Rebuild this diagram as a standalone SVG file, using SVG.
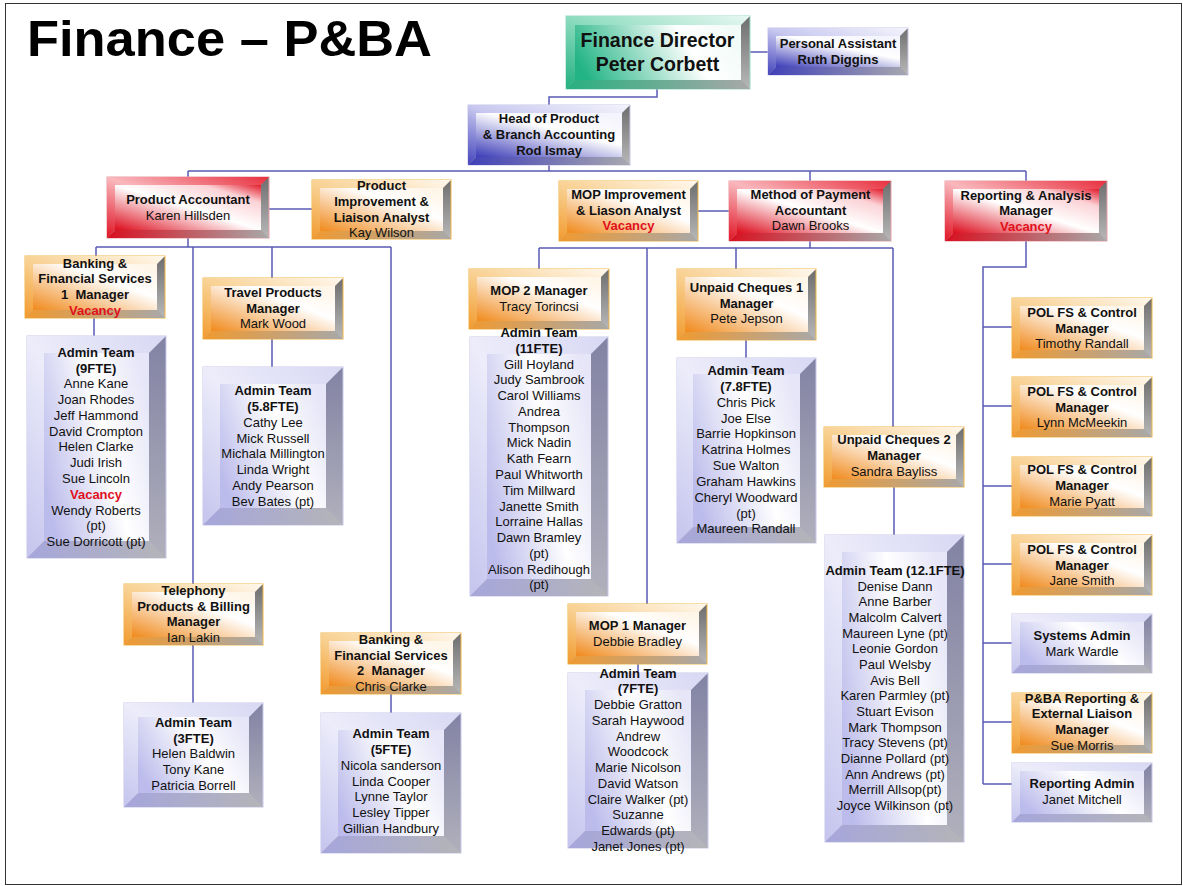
<svg xmlns="http://www.w3.org/2000/svg" width="1183" height="886" viewBox="0 0 1183 886">
<defs>
<linearGradient id="grayR" x1="0" y1="0" x2="0" y2="1"><stop offset="0" stop-color="#6e6e6e"/><stop offset="1" stop-color="#b8b8b8"/></linearGradient>
<linearGradient id="grayRL" x1="0" y1="0" x2="0" y2="1"><stop offset="0" stop-color="#8282a4"/><stop offset="1" stop-color="#b0b0bc"/></linearGradient>
<linearGradient id="oF" x1="0" y1="1" x2="0.9" y2="0.1"><stop offset="0" stop-color="#f08a1c"/><stop offset="0.7" stop-color="#ffffff"/><stop offset="1" stop-color="#fff6ea"/></linearGradient>
<linearGradient id="oT" x1="0" y1="1" x2="1" y2="0"><stop offset="0" stop-color="#f29a2e"/><stop offset="0.45" stop-color="#f8cf8e"/><stop offset="1" stop-color="#fff8ee"/></linearGradient>
<linearGradient id="oB" x1="0" y1="0" x2="1" y2="0"><stop offset="0" stop-color="#f09a30"/><stop offset="1" stop-color="#a8a8a8"/></linearGradient>
<linearGradient id="rF" x1="0" y1="1" x2="1" y2="0"><stop offset="0" stop-color="#dc0c1c"/><stop offset="0.5" stop-color="#ffffff"/><stop offset="0.8" stop-color="#fbd2d6"/><stop offset="1" stop-color="#e41c2c"/></linearGradient>
<linearGradient id="rT" x1="0" y1="1" x2="1" y2="0"><stop offset="0" stop-color="#e01424"/><stop offset="0.5" stop-color="#f9b8bd"/><stop offset="1" stop-color="#e8303e"/></linearGradient>
<linearGradient id="rB" x1="0" y1="0" x2="1" y2="0"><stop offset="0" stop-color="#d81020"/><stop offset="1" stop-color="#a8a8a8"/></linearGradient>
<linearGradient id="bF" x1="0" y1="1" x2="0.8" y2="0"><stop offset="0" stop-color="#3c3cb8"/><stop offset="0.65" stop-color="#ffffff"/><stop offset="1" stop-color="#f4f4fc"/></linearGradient>
<linearGradient id="bT" x1="0" y1="1" x2="1" y2="0"><stop offset="0" stop-color="#4444bc"/><stop offset="0.5" stop-color="#c8c8f0"/><stop offset="1" stop-color="#f4f4fc"/></linearGradient>
<linearGradient id="bB" x1="0" y1="0" x2="1" y2="0"><stop offset="0" stop-color="#4040b8"/><stop offset="1" stop-color="#a8a8b0"/></linearGradient>
<linearGradient id="lF" x1="0" y1="0.7" x2="1" y2="0.3"><stop offset="0" stop-color="#bcbcec"/><stop offset="0.6" stop-color="#ffffff"/><stop offset="1" stop-color="#e6e6f8"/></linearGradient>
<linearGradient id="lT" x1="0" y1="1" x2="1" y2="0"><stop offset="0" stop-color="#c4c4ee"/><stop offset="0.5" stop-color="#ececfa"/><stop offset="1" stop-color="#d8d8f4"/></linearGradient>
<linearGradient id="lB" x1="0" y1="0" x2="1" y2="0"><stop offset="0" stop-color="#a6a6dc"/><stop offset="1" stop-color="#b4b4b8"/></linearGradient>
<linearGradient id="gF" x1="0" y1="0.6" x2="1" y2="0.4"><stop offset="0" stop-color="#22b484"/><stop offset="0.7" stop-color="#ffffff"/><stop offset="1" stop-color="#f2fbf7"/></linearGradient>
<linearGradient id="gT" x1="0" y1="1" x2="1" y2="0"><stop offset="0" stop-color="#22b080"/><stop offset="0.5" stop-color="#8edcc0"/><stop offset="1" stop-color="#e8f8f2"/></linearGradient>
<linearGradient id="gB" x1="0" y1="0" x2="1" y2="0"><stop offset="0" stop-color="#28b080"/><stop offset="1" stop-color="#a8a8a8"/></linearGradient>
</defs>
<style>
.out{fill:url(#grayR);stroke-width:1}
.o .out{stroke:#f0b848}
.r .out{stroke:#e8a0a8}
.b .out,.l .out{stroke:#c8c8e8}
.g .out{stroke:#9adcc4}
.l .out{fill:url(#grayRL)}
.o .f{fill:url(#oF)} .o .t{fill:url(#oT)} .o .bt{fill:url(#oB)}
.r .f{fill:url(#rF)} .r .t{fill:url(#rT)} .r .bt{fill:url(#rB)}
.b .f{fill:url(#bF)} .b .t{fill:url(#bT)} .b .bt{fill:url(#bB)}
.l .f{fill:url(#lF)} .l .t{fill:url(#lT)} .l .bt{fill:url(#lB)}
.g .f{fill:url(#gF)} .g .t{fill:url(#gT)} .g .bt{fill:url(#gB)}
text{font-family:"Liberation Sans",Arial,Helvetica,sans-serif;font-size:13px;fill:#111;text-anchor:middle}
.h{font-weight:bold}
.v{font-weight:bold;fill:#e0101c}
.big{font-size:19.5px;font-weight:bold}
.pre{white-space:pre}
#conn path{fill:none;stroke:#5a5ab4;stroke-width:1.5}
</style>
<rect x="5.5" y="3.5" width="1176" height="881" fill="#ffffff" stroke="#333" stroke-width="1"/>
<text x="27" y="56" style="font-size:50px;font-weight:bold;text-anchor:start;fill:#000" textLength="405" lengthAdjust="spacingAndGlyphs">Finance – P&amp;BA</text>

<g id="conn">
<path d="M750 52H768"/>
<path d="M657 89V97H549V105"/>
<path d="M549 165V171M188 171H1026M188 171V177M810 171V181M1026 171V181"/>
<path d="M269 209H312"/>
<path d="M188 238V247M96 247H391M96 247V256M193 247V584M272 247V278M391 247V633"/>
<path d="M94 318V336M272 339V367M193 645V703M391 694V713"/>
<path d="M698 211H729"/>
<path d="M810 241V248M539 248H893M539 248V269M647 248V604M736 248V269M893 248V427"/>
<path d="M539 329V337M746 340V358M638 664V673M894 487V535"/>
<path d="M1026 241V267H983V784M983 327H1012M983 406H1012M983 486H1012M983 564H1012M983 643H1012M983 722H1012M983 784H1012"/>
</g>

<g id="fd" class="g"><rect class="out" x="566" y="16" width="184" height="73"/><polygon class="bt" points="566,89 750,89 741,80 575,80"/><polygon class="t" points="566,16 750,16 741,25 575,25 575,80 566,89"/><rect class="f" x="575" y="25" width="166" height="55"/>
<text class="big"><tspan x="657.5" y="47">Finance Director</tspan><tspan x="657.5" y="70.5">Peter Corbett</tspan></text></g>

<g id="pa" class="b"><rect class="out" x="768" y="28" width="140" height="47"/><polygon class="bt" points="768,75 908,75 900,67 776,67"/><polygon class="t" points="768,28 908,28 900,36 776,36 776,67 768,75"/><rect class="f" x="776" y="36" width="124" height="31"/>
<text class="h"><tspan x="838" y="47.5">Personal Assistant</tspan><tspan x="838" y="63.5">Ruth Diggins</tspan></text></g>

<g id="head" class="b"><rect class="out" x="468" y="105" width="162" height="60"/><polygon class="bt" points="468,165 630,165 622,157 476,157"/><polygon class="t" points="468,105 630,105 622,113 476,113 476,157 468,165"/><rect class="f" x="476" y="113" width="146" height="44"/>
<text class="h"><tspan x="549" y="123">Head of Product</tspan><tspan x="549" y="139">&amp; Branch Accounting</tspan><tspan x="549" y="155">Rod Ismay</tspan></text></g>

<g id="prodacct" class="r"><rect class="out" x="107" y="177" width="162" height="61"/><polygon class="bt" points="107,238 269,238 261,230 115,230"/><polygon class="t" points="107,177 269,177 261,185 115,185 115,230 107,238"/><rect class="f" x="115" y="185" width="146" height="45"/>
<text><tspan class="h" x="188" y="204">Product Accountant</tspan><tspan x="188" y="220">Karen Hillsden</tspan></text></g>

<g id="pila" class="o"><rect class="out" x="312" y="180" width="139" height="59"/><polygon class="bt" points="312,239 451,239 443,231 320,231"/><polygon class="t" points="312,180 451,180 443,188 320,188 320,231 312,239"/><rect class="f" x="320" y="188" width="123" height="43"/>
<text><tspan class="h" x="381.5" y="190">Product</tspan><tspan class="h" x="381.5" y="206">Improvement &amp;</tspan><tspan class="h" x="381.5" y="221.5">Liaison Analyst</tspan><tspan x="381.5" y="237">Kay Wilson</tspan></text></g>

<g id="mopimp" class="o"><rect class="out" x="559" y="181" width="139" height="60"/><polygon class="bt" points="559,241 698,241 690,233 567,233"/><polygon class="t" points="559,181 698,181 690,189 567,189 567,233 559,241"/><rect class="f" x="567" y="189" width="123" height="44"/>
<text><tspan class="h" x="628.5" y="198.5">MOP Improvement</tspan><tspan class="h" x="628.5" y="214.5">&amp; Liason Analyst</tspan><tspan class="v" x="628.5" y="230">Vacancy</tspan></text></g>

<g id="mopacct" class="r"><rect class="out" x="729" y="181" width="162" height="60"/><polygon class="bt" points="729,241 891,241 883,233 737,233"/><polygon class="t" points="729,181 891,181 883,189 737,189 737,233 729,241"/><rect class="f" x="737" y="189" width="146" height="44"/>
<text><tspan class="h" x="810.5" y="198.5">Method of Payment</tspan><tspan class="h" x="810.5" y="214.5">Accountant</tspan><tspan x="810.5" y="230">Dawn Brooks</tspan></text></g>

<g id="reporting" class="r"><rect class="out" x="945" y="181" width="162" height="60"/><polygon class="bt" points="945,241 1107,241 1099,233 953,233"/><polygon class="t" points="945,181 1107,181 1099,189 953,189 953,233 945,241"/><rect class="f" x="953" y="189" width="146" height="44"/>
<text><tspan class="h" x="1026" y="199.5">Reporting &amp; Analysis</tspan><tspan class="h" x="1026" y="215">Manager</tspan><tspan class="v" x="1026" y="230.5">Vacancy</tspan></text></g>

<g id="bfs1" class="o"><rect class="out" x="25" y="256" width="140" height="62"/><polygon class="bt" points="25,318 165,318 157,310 33,310"/><polygon class="t" points="25,256 165,256 157,264 33,264 33,310 25,318"/><rect class="f" x="33" y="264" width="124" height="46"/>
<text><tspan class="h" x="95" y="267.5">Banking &amp;</tspan><tspan class="h" x="95" y="283.3">Financial Services</tspan><tspan class="h pre" x="95" y="299">1  Manager</tspan><tspan class="v" x="95" y="315">Vacancy</tspan></text></g>

<g id="travel" class="o"><rect class="out" x="203" y="278" width="140" height="61"/><polygon class="bt" points="203,339 343,339 335,331 211,331"/><polygon class="t" points="203,278 343,278 335,286 211,286 211,331 203,339"/><rect class="f" x="211" y="286" width="124" height="45"/>
<text><tspan class="h" x="273" y="297.2">Travel Products</tspan><tspan class="h" x="273" y="312.8">Manager</tspan><tspan x="273" y="328">Mark Wood</tspan></text></g>

<g id="mop2" class="o"><rect class="out" x="469" y="269" width="140" height="60"/><polygon class="bt" points="469,329 609,329 601,321 477,321"/><polygon class="t" points="469,269 609,269 601,277 477,277 477,321 469,329"/><rect class="f" x="477" y="277" width="124" height="44"/>
<text><tspan class="h" x="539" y="295.3">MOP 2 Manager</tspan><tspan x="539" y="311">Tracy Torincsi</tspan></text></g>

<g id="uc1" class="o"><rect class="out" x="677" y="269" width="139" height="71"/><polygon class="bt" points="677,340 816,340 808,332 685,332"/><polygon class="t" points="677,269 816,269 808,277 685,277 685,332 677,340"/><rect class="f" x="685" y="277" width="123" height="55"/>
<text><tspan class="h" x="746.5" y="291.7">Unpaid Cheques 1</tspan><tspan class="h" x="746.5" y="307.7">Manager</tspan><tspan x="746.5" y="323.3">Pete Jepson</tspan></text></g>

<g id="admin9" class="l"><rect class="out" x="27" y="336" width="139" height="222"/><polygon class="bt" points="27,558 166,558 149,541 44,541"/><polygon class="t" points="27,336 166,336 149,353 44,353 44,541 27,558"/><rect class="f" x="44" y="353" width="105" height="188"/>
<text><tspan class="h" x="96" y="356.7">Admin Team</tspan><tspan class="h" x="96" y="372.5">(9FTE)</tspan><tspan x="96" y="388.3">Anne Kane</tspan><tspan x="96" y="404">Joan Rhodes</tspan><tspan x="96" y="419.8">Jeff Hammond</tspan><tspan x="96" y="435.6">David Crompton</tspan><tspan x="96" y="451.4">Helen Clarke</tspan><tspan x="96" y="467.2">Judi Irish</tspan><tspan x="96" y="483">Sue Lincoln</tspan><tspan class="v" x="96" y="498.7">Vacancy</tspan><tspan x="96" y="514.5">Wendy Roberts</tspan><tspan x="96" y="530.3">(pt)</tspan><tspan x="96" y="546.1">Sue Dorricott (pt)</tspan></text></g>

<g id="admin58" class="l"><rect class="out" x="203" y="367" width="140" height="158"/><polygon class="bt" points="203,525 343,525 326,508 220,508"/><polygon class="t" points="203,367 343,367 326,384 220,384 220,508 203,525"/><rect class="f" x="220" y="384" width="106" height="124"/>
<text><tspan class="h" x="273" y="395">Admin Team</tspan><tspan class="h" x="273" y="410.9">(5.8FTE)</tspan><tspan x="273" y="426.7">Cathy Lee</tspan><tspan x="273" y="442.6">Mick Russell</tspan><tspan x="273" y="458.4">Michala Millington</tspan><tspan x="273" y="474.3">Linda Wright</tspan><tspan x="273" y="490.2">Andy Pearson</tspan><tspan x="273" y="506">Bev Bates (pt)</tspan></text></g>

<g id="telephony" class="o"><rect class="out" x="124" y="584" width="139" height="61"/><polygon class="bt" points="124,645 263,645 255,637 132,637"/><polygon class="t" points="124,584 263,584 255,592 132,592 132,637 124,645"/><rect class="f" x="132" y="592" width="123" height="45"/>
<text><tspan class="h" x="193.5" y="595">Telephony</tspan><tspan class="h" x="193.5" y="610.6">Products &amp; Billing</tspan><tspan class="h" x="193.5" y="626.2">Manager</tspan><tspan x="193.5" y="641.8">Ian Lakin</tspan></text></g>

<g id="admin3" class="l"><rect class="out" x="124" y="703" width="139" height="104"/><polygon class="bt" points="124,807 263,807 249,793 138,793"/><polygon class="t" points="124,703 263,703 249,717 138,717 138,793 124,807"/><rect class="f" x="138" y="717" width="111" height="76"/>
<text><tspan class="h" x="193.5" y="726.7">Admin Team</tspan><tspan class="h" x="193.5" y="742.5">(3FTE)</tspan><tspan x="193.5" y="758.3">Helen Baldwin</tspan><tspan x="193.5" y="774">Tony Kane</tspan><tspan x="193.5" y="789.8">Patricia Borrell</tspan></text></g>

<g id="bfs2" class="o"><rect class="out" x="321" y="633" width="140" height="61"/><polygon class="bt" points="321,694 461,694 453,686 329,686"/><polygon class="t" points="321,633 461,633 453,641 329,641 329,686 321,694"/><rect class="f" x="329" y="641" width="124" height="45"/>
<text><tspan class="h" x="391" y="644">Banking &amp;</tspan><tspan class="h" x="391" y="659.8">Financial Services</tspan><tspan class="h pre" x="391" y="675.4">2  Manager</tspan><tspan x="391" y="690.8">Chris Clarke</tspan></text></g>

<g id="admin5" class="l"><rect class="out" x="321" y="713" width="140" height="140"/><polygon class="bt" points="321,853 461,853 444,836 338,836"/><polygon class="t" points="321,713 461,713 444,730 338,730 338,836 321,853"/><rect class="f" x="338" y="730" width="106" height="106"/>
<text><tspan class="h" x="391" y="738.3">Admin Team</tspan><tspan class="h" x="391" y="754.1">(5FTE)</tspan><tspan x="391" y="769.9">Nicola sanderson</tspan><tspan x="391" y="785.6">Linda Cooper</tspan><tspan x="391" y="801.4">Lynne Taylor</tspan><tspan x="391" y="817.2">Lesley Tipper</tspan><tspan x="391" y="833">Gillian Handbury</tspan></text></g>

<g id="admin11" class="l"><rect class="out" x="470" y="337" width="138" height="259"/><polygon class="bt" points="470,596 608,596 591,579 487,579"/><polygon class="t" points="470,337 608,337 591,354 487,354 487,579 470,596"/><rect class="f" x="487" y="354" width="104" height="225"/>
<text><tspan class="h" x="539" y="337">Admin Team</tspan><tspan class="h" x="539" y="352.8">(11FTE)</tspan><tspan x="539" y="368.5">Gill Hoyland</tspan><tspan x="539" y="384.3">Judy Sambrook</tspan><tspan x="539" y="400.1">Carol Williams</tspan><tspan x="539" y="415.9">Andrea</tspan><tspan x="539" y="431.6">Thompson</tspan><tspan x="539" y="447.4">Mick Nadin</tspan><tspan x="539" y="463.2">Kath Fearn</tspan><tspan x="539" y="478.9">Paul Whitworth</tspan><tspan x="539" y="494.7">Tim Millward</tspan><tspan x="539" y="510.5">Janette Smith</tspan><tspan x="539" y="526.2">Lorraine Hallas</tspan><tspan x="539" y="542">Dawn Bramley</tspan><tspan x="539" y="557.8">(pt)</tspan><tspan x="539" y="573.6">Alison Redihough</tspan><tspan x="539" y="589.3">(pt)</tspan></text></g>

<g id="admin78" class="l"><rect class="out" x="677" y="358" width="139" height="185"/><polygon class="bt" points="677,543 816,543 800,527 693,527"/><polygon class="t" points="677,358 816,358 800,374 693,374 693,527 677,543"/><rect class="f" x="693" y="374" width="107" height="153"/>
<text><tspan class="h" x="746" y="375">Admin Team</tspan><tspan class="h" x="746" y="390.8">(7.8FTE)</tspan><tspan x="746" y="406.7">Chris Pick</tspan><tspan x="746" y="422.5">Joe Else</tspan><tspan x="746" y="438.3">Barrie Hopkinson</tspan><tspan x="746" y="454.2">Katrina Holmes</tspan><tspan x="746" y="470">Sue Walton</tspan><tspan x="746" y="485.8">Graham Hawkins</tspan><tspan x="746" y="501.6">Cheryl Woodward</tspan><tspan x="746" y="517.5">(pt)</tspan><tspan x="746" y="533.3">Maureen Randall</tspan></text></g>

<g id="mop1" class="o"><rect class="out" x="568" y="604" width="139" height="60"/><polygon class="bt" points="568,664 707,664 699,656 576,656"/><polygon class="t" points="568,604 707,604 699,612 576,612 576,656 568,664"/><rect class="f" x="576" y="612" width="123" height="44"/>
<text><tspan class="h" x="637.5" y="630">MOP 1 Manager</tspan><tspan x="637.5" y="646">Debbie Bradley</tspan></text></g>

<g id="admin7" class="l"><rect class="out" x="568" y="673" width="140" height="175"/><polygon class="bt" points="568,848 708,848 691,831 585,831"/><polygon class="t" points="568,673 708,673 691,690 585,690 585,831 568,848"/><rect class="f" x="585" y="690" width="106" height="141"/>
<text><tspan class="h" x="638" y="677.7">Admin Team</tspan><tspan class="h" x="638" y="693.4">(7FTE)</tspan><tspan x="638" y="709.2">Debbie Gratton</tspan><tspan x="638" y="724.9">Sarah Haywood</tspan><tspan x="638" y="740.6">Andrew</tspan><tspan x="638" y="756.4">Woodcock</tspan><tspan x="638" y="772.1">Marie Nicolson</tspan><tspan x="638" y="787.8">David Watson</tspan><tspan x="638" y="803.5">Claire Walker (pt)</tspan><tspan x="638" y="819.3">Suzanne</tspan><tspan x="638" y="835">Edwards (pt)</tspan><tspan x="638" y="850.7">Janet Jones (pt)</tspan></text></g>

<g id="uc2" class="o"><rect class="out" x="824" y="427" width="140" height="60"/><polygon class="bt" points="824,487 964,487 956,479 832,479"/><polygon class="t" points="824,427 964,427 956,435 832,435 832,479 824,487"/><rect class="f" x="832" y="435" width="124" height="44"/>
<text><tspan class="h" x="894" y="444">Unpaid Cheques 2</tspan><tspan class="h" x="894" y="460">Manager</tspan><tspan x="894" y="475.5">Sandra Bayliss</tspan></text></g>

<g id="admin121" class="l"><rect class="out" x="825" y="535" width="139" height="307"/><polygon class="bt" points="825,842 964,842 947,825 842,825"/><polygon class="t" points="825,535 964,535 947,552 842,552 842,825 825,842"/><rect class="f" x="842" y="552" width="105" height="273"/>
<text><tspan class="h" x="895" y="575">Admin Team (12.1FTE)</tspan><tspan x="895" y="590.7">Denise Dann</tspan><tspan x="895" y="606.3">Anne Barber</tspan><tspan x="895" y="622">Malcolm Calvert</tspan><tspan x="895" y="637.7">Maureen Lyne (pt)</tspan><tspan x="895" y="653.4">Leonie Gordon</tspan><tspan x="895" y="669">Paul Welsby</tspan><tspan x="895" y="684.7">Avis Bell</tspan><tspan x="895" y="700.4">Karen Parmley (pt)</tspan><tspan x="895" y="716">Stuart Evison</tspan><tspan x="895" y="731.7">Mark Thompson</tspan><tspan x="895" y="747.4">Tracy Stevens (pt)</tspan><tspan x="895" y="763">Dianne Pollard (pt)</tspan><tspan x="895" y="778.7">Ann Andrews (pt)</tspan><tspan x="895" y="794.4">Merrill Allsop(pt)</tspan><tspan x="895" y="810">Joyce Wilkinson (pt)</tspan></text></g>

<g id="pol1" class="o"><rect class="out" x="1012" y="298" width="140" height="60"/><polygon class="bt" points="1012,358 1152,358 1144,350 1020,350"/><polygon class="t" points="1012,298 1152,298 1144,306 1020,306 1020,350 1012,358"/><rect class="f" x="1020" y="306" width="124" height="44"/>
<text><tspan class="h" x="1082" y="316.7">POL FS &amp; Control</tspan><tspan class="h" x="1082" y="332.5">Manager</tspan><tspan x="1082" y="348">Timothy Randall</tspan></text></g>

<g id="pol2" class="o"><rect class="out" x="1012" y="377" width="140" height="60"/><polygon class="bt" points="1012,437 1152,437 1144,429 1020,429"/><polygon class="t" points="1012,377 1152,377 1144,385 1020,385 1020,429 1012,437"/><rect class="f" x="1020" y="385" width="124" height="44"/>
<text><tspan class="h" x="1082" y="396">POL FS &amp; Control</tspan><tspan class="h" x="1082" y="411.7">Manager</tspan><tspan x="1082" y="427">Lynn McMeekin</tspan></text></g>

<g id="pol3" class="o"><rect class="out" x="1012" y="457" width="140" height="59"/><polygon class="bt" points="1012,516 1152,516 1144,508 1020,508"/><polygon class="t" points="1012,457 1152,457 1144,465 1020,465 1020,508 1012,516"/><rect class="f" x="1020" y="465" width="124" height="43"/>
<text><tspan class="h" x="1082" y="474.3">POL FS &amp; Control</tspan><tspan class="h" x="1082" y="490">Manager</tspan><tspan x="1082" y="505.7">Marie Pyatt</tspan></text></g>

<g id="pol4" class="o"><rect class="out" x="1012" y="535" width="140" height="60"/><polygon class="bt" points="1012,595 1152,595 1144,587 1020,587"/><polygon class="t" points="1012,535 1152,535 1144,543 1020,543 1020,587 1012,595"/><rect class="f" x="1020" y="543" width="124" height="44"/>
<text><tspan class="h" x="1082" y="554">POL FS &amp; Control</tspan><tspan class="h" x="1082" y="569.5">Manager</tspan><tspan x="1082" y="585">Jane Smith</tspan></text></g>

<g id="sysadmin" class="l"><rect class="out" x="1012" y="614" width="140" height="59"/><polygon class="bt" points="1012,673 1152,673 1144,665 1020,665"/><polygon class="t" points="1012,614 1152,614 1144,622 1020,622 1020,665 1012,673"/><rect class="f" x="1020" y="622" width="124" height="43"/>
<text><tspan class="h" x="1082" y="640.2">Systems Admin</tspan><tspan x="1082" y="656">Mark Wardle</tspan></text></g>

<g id="pbarep" class="o"><rect class="out" x="1012" y="693" width="140" height="60"/><polygon class="bt" points="1012,753 1152,753 1144,745 1020,745"/><polygon class="t" points="1012,693 1152,693 1144,701 1020,701 1020,745 1012,753"/><rect class="f" x="1020" y="701" width="124" height="44"/>
<text><tspan class="h" x="1082" y="702.7">P&amp;BA Reporting &amp;</tspan><tspan class="h" x="1082" y="718.4">External Liaison</tspan><tspan class="h" x="1082" y="734.2">Manager</tspan><tspan x="1082" y="750">Sue Morris</tspan></text></g>

<g id="repadmin" class="l"><rect class="out" x="1012" y="763" width="140" height="59"/><polygon class="bt" points="1012,822 1152,822 1144,814 1020,814"/><polygon class="t" points="1012,763 1152,763 1144,771 1020,771 1020,814 1012,822"/><rect class="f" x="1020" y="771" width="124" height="43"/>
<text><tspan class="h" x="1082" y="788.3">Reporting Admin</tspan><tspan x="1082" y="804">Janet Mitchell</tspan></text></g>
</svg>
